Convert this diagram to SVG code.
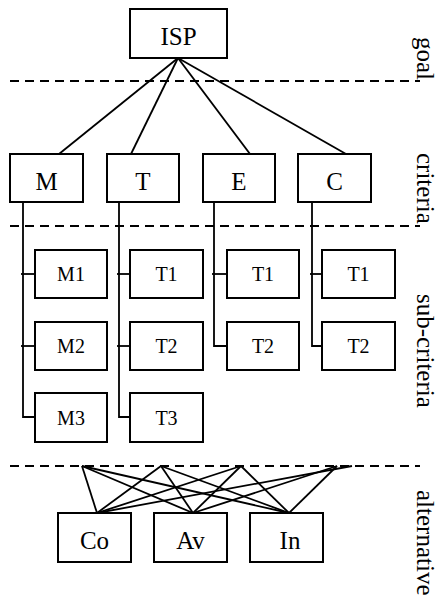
<svg xmlns="http://www.w3.org/2000/svg" width="439" height="606" viewBox="0 0 439 606">
<style>
rect{fill:#fff;stroke:#000;stroke-width:2}
.c line,.c polyline{stroke:#000;stroke-width:1.8;fill:none}
.d{stroke:#000;stroke-width:1.8;stroke-dasharray:9 6}
text{font-family:"Liberation Serif","Times New Roman",serif;fill:#000;text-anchor:middle}
.b{font-size:25px}
.s{font-size:20px}
.l{font-size:25px;text-anchor:start}
</style>
<g id="levels">
<line class="d" x1="10" y1="81" x2="420" y2="81"/>
<line class="d" x1="10" y1="226" x2="420" y2="226"/>
<line class="d" x1="10" y1="466" x2="420" y2="466"/>
<text class="l" transform="translate(417,37) rotate(90)">goal</text>
<text class="l" transform="translate(417,153) rotate(90)">criteria</text>
<text class="l" transform="translate(417,294) rotate(90)">sub-criteria</text>
<text class="l" transform="translate(417,490) rotate(90)">alternative</text>
</g>
<g class="c" id="connectors">
<line x1="178" y1="58" x2="59" y2="154"/>
<line x1="178" y1="58" x2="131" y2="154"/>
<line x1="178" y1="58" x2="250" y2="154"/>
<line x1="178" y1="58" x2="346" y2="154"/>
<polyline points="23,202 23,417 35,417"/>
<line x1="21" y1="274" x2="35" y2="274"/>
<line x1="21" y1="346" x2="35" y2="346"/>
<polyline points="119,202 119,417 130,417"/>
<line x1="117" y1="274" x2="130" y2="274"/>
<line x1="117" y1="346" x2="130" y2="346"/>
<polyline points="214,202 214,346 227,346"/>
<line x1="212" y1="274" x2="227" y2="274"/>
<polyline points="312,202 312,346 322,346"/>
<line x1="310" y1="274" x2="322" y2="274"/>
<line x1="82" y1="466" x2="97" y2="513"/>
<line x1="161" y1="466" x2="97" y2="513"/>
<line x1="241" y1="466" x2="97" y2="513"/>
<line x1="352" y1="466" x2="97" y2="513"/>
<line x1="82" y1="466" x2="193" y2="513"/>
<line x1="161" y1="466" x2="193" y2="513"/>
<line x1="241" y1="466" x2="193" y2="513"/>
<line x1="337" y1="466" x2="193" y2="513"/>
<line x1="82" y1="466" x2="289" y2="513"/>
<line x1="161" y1="466" x2="289" y2="513"/>
<line x1="241" y1="466" x2="289" y2="513"/>
<line x1="337" y1="466" x2="289" y2="513"/>
</g>
<g id="ISP"><rect x="130" y="9" width="97" height="49"/><text class="b" x="178.5" y="45">ISP</text></g>
<g id="M"><rect x="10" y="154" width="73" height="48"/><text class="b" x="46.5" y="190">M</text></g>
<g id="T"><rect x="107" y="154" width="72" height="48"/><text class="b" x="143" y="190">T</text></g>
<g id="E"><rect x="203" y="154" width="72" height="48"/><text class="b" x="239" y="190">E</text></g>
<g id="C"><rect x="298" y="154" width="73" height="48"/><text class="b" x="334.5" y="190">C</text></g>
<g id="M1"><rect x="35" y="250" width="72" height="48"/><text class="s" x="71" y="281">M1</text></g>
<g id="M2"><rect x="35" y="322" width="72" height="48"/><text class="s" x="71" y="353">M2</text></g>
<g id="M3"><rect x="35" y="393" width="72" height="49"/><text class="s" x="71" y="425">M3</text></g>
<g id="T_T1"><rect x="130" y="250" width="73" height="48"/><text class="s" x="166.5" y="281">T1</text></g>
<g id="T_T2"><rect x="130" y="322" width="73" height="48"/><text class="s" x="166.5" y="353">T2</text></g>
<g id="T_T3"><rect x="130" y="393" width="73" height="49"/><text class="s" x="166.5" y="425">T3</text></g>
<g id="E_T1"><rect x="227" y="250" width="72" height="48"/><text class="s" x="263" y="281">T1</text></g>
<g id="E_T2"><rect x="227" y="322" width="72" height="48"/><text class="s" x="263" y="353">T2</text></g>
<g id="C_T1"><rect x="322" y="250" width="73" height="48"/><text class="s" x="358.5" y="281">T1</text></g>
<g id="C_T2"><rect x="322" y="322" width="73" height="48"/><text class="s" x="358.5" y="353">T2</text></g>
<g id="Co"><rect x="58" y="513" width="73" height="49"/><text class="b" x="94.5" y="549">Co</text></g>
<g id="Av"><rect x="154" y="513" width="73" height="49"/><text class="b" x="190.5" y="549">Av</text></g>
<g id="In"><rect x="250" y="513" width="73" height="49"/><text class="b" x="290" y="549">In</text></g>
</svg>
